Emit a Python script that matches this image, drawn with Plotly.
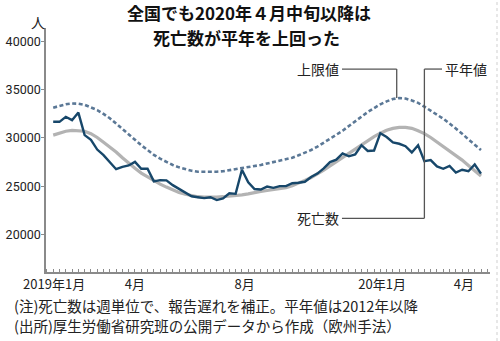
import pandas as pd
import plotly.graph_objects as go

# Weekly deaths in Japan, Jan 2019 - Apr 2020
week_start = "2018-12-31"
deaths = [31680, 31680, 32200, 31850, 32640, 30300, 29800, 28800, 28220, 27450,
          26760, 27000, 27150, 27520, 26800, 26800, 25500, 25620, 25600, 25100,
          24700, 24300, 23950, 23850, 23750, 23850, 23550, 23720, 24250, 24200,
          26700, 25400, 24700, 24650, 24950, 24820, 25000, 25000, 25300, 25350,
          25450, 25950, 26300, 26850, 27500, 27750, 28400, 28100, 28300, 29250,
          28650, 28700, 30500, 30100, 29550, 29400, 29150, 28500, 29250, 27600,
          27700, 27050, 26800, 27100, 26400, 26700, 26550, 27250, 26300]
normal = [30300, 30500, 30700, 30780, 30780, 30700, 30450, 30050, 29550, 29100,
          28550, 27950, 27350, 26850, 26350, 25950, 25550, 25200, 24900, 24600,
          24350, 24150, 24000, 23900, 23850, 23830, 23850, 23900, 23950, 24000,
          24100, 24200, 24350, 24450, 24550, 24650, 24750, 24850, 25050, 25300,
          25600, 25900, 26250, 26650, 27100, 27550, 28000, 28450, 28900, 29350,
          29750, 30150, 30500, 30800, 31000, 31100, 31100, 31000, 30750, 30450,
          30050, 29600, 29150, 28700, 28200, 27700, 27150, 26600, 26050]
upper = [33150, 33350, 33500, 33580, 33560, 33450, 33200, 32900, 32500, 32050,
         31500, 30920, 30400, 29800, 29250, 28750, 28250, 27850, 27500, 27200,
         26950, 26750, 26600, 26500, 26480, 26480, 26500, 26550, 26650, 26750,
         26850, 26950, 27100, 27200, 27350, 27500, 27600, 27750, 27950, 28200,
         28450, 28750, 29100, 29500, 29900, 30300, 30750, 31250, 31750, 32250,
         32700, 33100, 33500, 33800, 34050, 34150, 34100, 33900, 33650, 33250,
         32850, 32450, 32000, 31500, 31000, 30450, 29850, 29300, 28750]

tick_dates = ["2019-01-01", "2019-04-01", "2019-08-01", "2020-01-01", "2020-04-01"]
tick_text = ["2019年1月", "4月", "8月", "20年1月", "4月"]
y_ticks = [20000, 25000, 30000, 35000, 40000]
y_text = [str(v) for v in y_ticks]

dates = pd.date_range(week_start, periods=len(deaths), freq="7D")
t0 = dates[0]


def wk(w):
    return t0 + pd.Timedelta(days=7 * w)


JP = "Noto Sans CJK JP"
NUM = "Roboto, Noto Sans CJK JP"
AXIS = "#8a8a8a"
INK = "#222222"
LEAD = "#555555"

fig = go.Figure()
fig.add_trace(go.Scatter(x=dates, y=upper, mode="lines",
                         line=dict(color="#5b7896", width=2.6, dash="4px,2.5px"),
                         hoverinfo="skip"))
fig.add_trace(go.Scatter(x=dates, y=normal, mode="lines",
                         line=dict(color="#b3b3b3", width=3.2), hoverinfo="skip"))
fig.add_trace(go.Scatter(x=dates, y=deaths, mode="lines",
                         line=dict(color="#17476a", width=2.4), hoverinfo="skip"))

label_y = 37160
low_y = 21660
lead_w = 59

shapes = [
    # 上限値 callout
    dict(type="line", xref="x", yref="y", x0=wk(45.9), x1=wk(54.6), y0=label_y, y1=label_y),
    dict(type="line", xref="x", yref="y", x0=wk(54.6), x1=wk(54.6), y0=label_y, y1=upper[55]),
    # 平年値 callout
    dict(type="line", xref="x", yref="y", x0=wk(lead_w), x1=wk(61.8), y0=label_y, y1=label_y),
    dict(type="line", xref="x", yref="y", x0=wk(lead_w), x1=wk(lead_w), y0=label_y, y1=normal[lead_w]),
    # 死亡数 callout
    dict(type="line", xref="x", yref="y", x0=wk(45.9), x1=wk(lead_w), y0=low_y, y1=low_y),
    dict(type="line", xref="x", yref="y", x0=wk(lead_w), x1=wk(lead_w), y0=low_y, y1=normal[lead_w]),
]
for s in shapes:
    s["line"] = dict(color=LEAD, width=1.3)
shapes.append(dict(type="line", xref="paper", yref="paper", x0=1.0158, x1=1.0158,
                   y0=-0.283, y1=1.115, line=dict(color="#cfcfcf", width=1, dash="dot")))

annotations = [
    dict(text="<b>全国でも2020年４月中旬以降は</b>", xref="paper", yref="paper",
         x=0.458, y=1.0643, xanchor="center", yanchor="middle", showarrow=False,
         font=dict(family=JP, size=17, color="#111111")),
    dict(text="<b>死亡数が平年を上回った</b>", xref="paper", yref="paper",
         x=0.452, y=0.9623, xanchor="center", yanchor="middle", showarrow=False,
         font=dict(family=JP, size=17, color="#111111")),
    dict(text="人", xref="paper", yref="paper", x=-0.018, y=1.025,
         xanchor="center", yanchor="middle", showarrow=False,
         font=dict(family=JP, size=14, color=INK)),
    dict(text="上限値", xref="x", yref="y", x=wk(45.8), y=label_y, xanchor="right",
         yanchor="middle", showarrow=False, font=dict(family=JP, size=14, color=INK)),
    dict(text="平年値", xref="x", yref="y", x=wk(61.9), y=label_y, xanchor="left",
         yanchor="middle", showarrow=False, font=dict(family=JP, size=14, color=INK)),
    dict(text="死亡数", xref="x", yref="y", x=wk(45.8), y=low_y, xanchor="right",
         yanchor="middle", showarrow=False, font=dict(family=JP, size=14, color=INK)),
    dict(text="(注)死亡数は週単位で、報告遅れを補正。平年値は2012年以降",
         xref="paper", yref="paper", x=-0.077, y=-0.139, xanchor="left", yanchor="middle",
         showarrow=False, font=dict(family=JP, size=14.5, color=INK)),
    dict(text="(出所)厚生労働省研究班の公開データから作成（欧州手法）",
         xref="paper", yref="paper", x=-0.077, y=-0.221, xanchor="left", yanchor="middle",
         showarrow=False, font=dict(family=JP, size=14.5, color=INK)),
]

fig.update_layout(
    width=500, height=341,
    margin=dict(l=46, r=10, t=28, b=69),
    paper_bgcolor="white", plot_bgcolor="white",
    showlegend=False,
    shapes=shapes,
    annotations=annotations,
    xaxis=dict(
        range=[t0 - pd.Timedelta(days=8), t0 + pd.Timedelta(days=486)],
        tickmode="array", tickvals=tick_dates, ticktext=tick_text,
        ticks="", showgrid=False, zeroline=False,
        showline=True, linecolor=AXIS, linewidth=1.5,
        tickfont=dict(family=JP, size=13, color=INK),
        minor=dict(tickmode="array",
                   tickvals=list(pd.date_range(t0 - pd.Timedelta(days=7),
                                               t0 + pd.Timedelta(days=483), freq="7D")),
                   ticks="inside", ticklen=3, tickwidth=1, tickcolor=AXIS, showgrid=False),
        automargin=False, fixedrange=True,
    ),
    yaxis=dict(
        range=[16080, 41425],
        tickmode="array", tickvals=y_ticks, ticktext=y_text,
        ticks="outside", ticklen=3, tickwidth=1, tickcolor=AXIS,
        ticklabelstandoff=-2,
        showgrid=False, zeroline=False,
        showline=True, linecolor=AXIS, linewidth=1.5,
        tickfont=dict(family=NUM, size=12.5, color=INK),
        automargin=False, fixedrange=True,
    ),
)

fig.write_html("out.html")
